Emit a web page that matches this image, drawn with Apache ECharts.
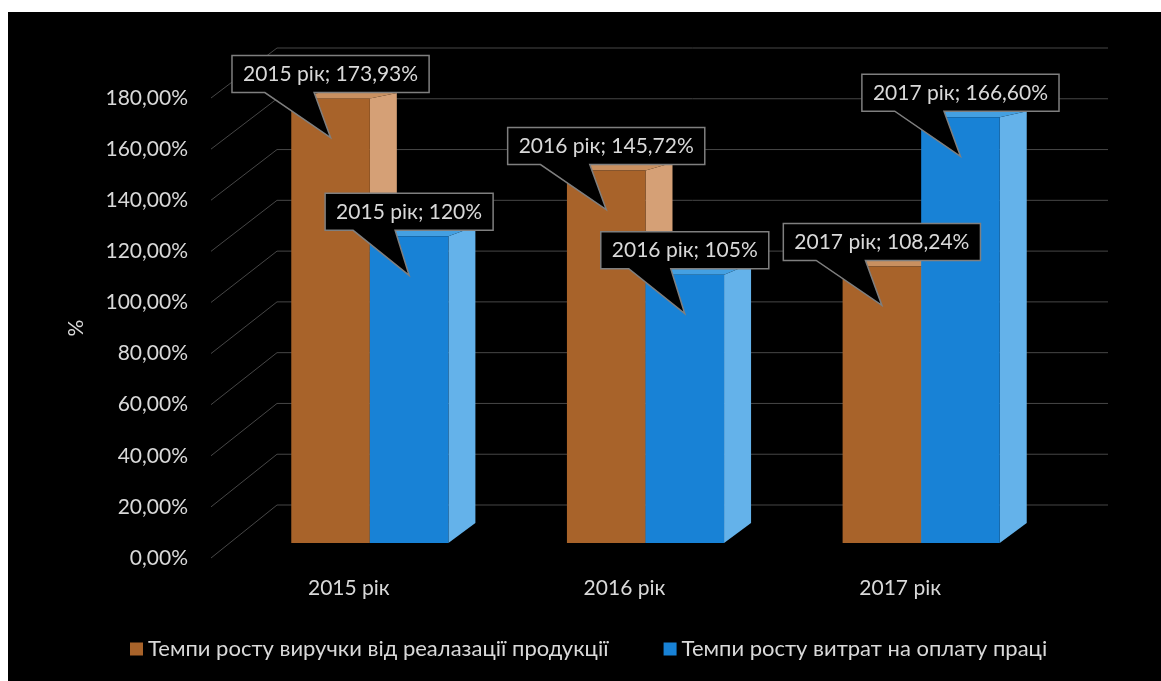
<!DOCTYPE html>
<html lang="uk">
<head>
    <meta charset="UTF-8">
    <title>Темпи росту</title>
    <style>
        body {
            margin: 0;
            background: #fff;
        }
        #chart {
            position: absolute;
            left: 8px;
            top: 12px;
            width: 1153px;
            height: 669px;
            background: #000;
        }
    </style>
</head>
<body>
<div id="chart"></div>
<script src="https://cdn.jsdelivr.net/npm/echarts@6/dist/echarts.min.js"></script>
<script>
    // дані з діаграми
    const years = ['2015 рік', '2016 рік', '2017 рік'];
    const revenueGrowth = [173.93, 145.72, 108.24];
    const wageGrowth = [120, 105, 166.60];
    const seriesNames = ['Темпи росту виручки від реалазації продукції', 'Темпи росту витрат на оплату праці'];
    const yTicks = [0, 20, 40, 60, 80, 100, 120, 140, 160, 180];

    const FONT = 'Lato, "Open Sans", sans-serif';
    const TEXT = '#d9d9d9';
    const colors = [
        { front: '#a8632a', side: '#d5a076', top: '#c99060' },
        { front: '#1882d6', side: '#64b2ea', top: '#44a0e2' }
    ];

    const measure = document.createElement('canvas').getContext('2d');
    measure.font = '21px ' + FONT;

    function pct(v) {
        return (Number.isInteger(v) ? String(v) : v.toFixed(2)).replace('.', ',') + '%';
    }

    const DX = 27; // глибина стовпця

    function barRender(si) {
        return function (params, api) {
            const idx = api.value(0);
            const val = api.value(1);
            const cs = params.coordSys;
            const band = api.size([1, 0])[0];
            const w = band * 0.285;
            const c = api.coord([idx, val]);
            const y0 = api.coord([idx, 0])[1];
            const yt = c[1];
            const xl = si === 0 ? c[0] - w : c[0];
            const dyOf = y => 5 + 15 * (y - cs.y) / cs.height;
            const dT = dyOf(yt), dB = dyOf(y0);
            const col = colors[si];

            // виноска
            const label = years[idx] + '; ' + pct(val);
            const tw = measure.measureText(label).width;
            const bw = tw + 22, bh = 37;
            const cx = xl + w / 2;
            const bl = cx - bw / 2, br = cx + bw / 2;
            const bb = yt - 6, btp = bb - bh;
            const tip = [cx, yt + 39];
            const callout = [
                [bl, btp], [br, btp], [br, bb],
                [bl + bw * 5 / 12, bb], tip, [bl + bw / 6, bb],
                [bl, bb]
            ];

            return {
                type: 'group',
                children: [
                    {
                        type: 'polygon',
                        z2: 1,
                        shape: { points: [[xl + w, yt], [xl + w + DX, yt - dT], [xl + w + DX, y0 - dB], [xl + w, y0]] },
                        style: { fill: col.side }
                    },
                    {
                        type: 'polygon',
                        z2: 1,
                        shape: { points: [[xl, yt], [xl + DX, yt - dT], [xl + w + DX, yt - dT], [xl + w, yt]] },
                        style: { fill: col.top }
                    },
                    {
                        type: 'rect',
                        z2: 2,
                        shape: { x: xl, y: yt, width: w, height: y0 - yt },
                        style: { fill: col.front }
                    },
                    {
                        type: 'polygon',
                        z2: 50,
                        shape: { points: callout },
                        style: { fill: '#000', stroke: '#7f7f7f', lineWidth: 1.5 }
                    },
                    {
                        type: 'text',
                        z2: 51,
                        style: {
                            x: cx, y: btp + bh / 2,
                            text: label,
                            fill: TEXT,
                            font: '21px ' + FONT,
                            align: 'center',
                            verticalAlign: 'middle'
                        }
                    }
                ]
            };
        };
    }

    function gridRender(params, api) {
        const cs = params.coordSys;
        const y = api.coord([0, api.value(1)])[1];
        const dy = 50 + 3 * (y - cs.y) / cs.height;
        const x0 = cs.x;
        return {
            type: 'polyline',
            shape: { points: [[x0, y], [x0 + 66, y - dy], [x0 + 70 + cs.width, y - dy]] },
            style: { stroke: '#474747', lineWidth: 1, fill: null }
        };
    }

    const chart = echarts.init(document.getElementById('chart'));
    chart.setOption({
        backgroundColor: '#000',
        animation: false,
        textStyle: { fontFamily: FONT },
        legend: {
            left: 117,
            top: 621,
            icon: 'rect',
            itemWidth: 13,
            itemHeight: 13,
            itemGap: 55,
            textStyle: { color: TEXT, fontSize: 22, fontFamily: FONT },
            data: seriesNames
        },
        grid: [
            { left: 203, right: 123, top: 86, bottom: 123 },
            { left: 224, right: 102, top: 71, bottom: 138 }
        ],
        xAxis: [
            {
                gridIndex: 0,
                type: 'category',
                data: years,
                axisLine: { show: false },
                axisTick: { show: false },
                axisLabel: { color: TEXT, fontSize: 21, margin: 20, fontFamily: FONT }
            },
            {
                gridIndex: 1,
                type: 'category',
                data: years,
                show: false
            }
        ],
        yAxis: [
            {
                gridIndex: 0,
                type: 'value',
                min: 0,
                max: 180,
                interval: 20,
                name: '%',
                nameLocation: 'middle',
                nameGap: 124,
                nameTextStyle: { color: TEXT, fontSize: 21, fontFamily: FONT },
                axisLine: { show: false },
                axisTick: { show: false },
                splitLine: { show: false },
                axisLabel: {
                    color: TEXT, fontSize: 21, margin: 23, fontFamily: FONT,
                    formatter: v => v.toFixed(2).replace('.', ',') + '%'
                }
            },
            {
                gridIndex: 1,
                type: 'value',
                min: 0,
                max: 180,
                show: false
            }
        ],
        series: [
            {
                type: 'custom',
                xAxisIndex: 0,
                yAxisIndex: 0,
                z: 1,
                silent: true,
                renderItem: gridRender,
                encode: { x: 0, y: 1 },
                data: yTicks.map(v => [0, v])
            },
            {
                name: seriesNames[0],
                type: 'custom',
                xAxisIndex: 1,
                yAxisIndex: 1,
                z: 2,
                itemStyle: { color: colors[0].front },
                renderItem: barRender(0),
                encode: { x: 0, y: 1 },
                data: revenueGrowth.map((v, i) => [i, v])
            },
            {
                name: seriesNames[1],
                type: 'custom',
                xAxisIndex: 1,
                yAxisIndex: 1,
                z: 2,
                itemStyle: { color: colors[1].front },
                renderItem: barRender(1),
                encode: { x: 0, y: 1 },
                data: wageGrowth.map((v, i) => [i, v])
            }
        ]
    });
</script>
</body>
</html>
